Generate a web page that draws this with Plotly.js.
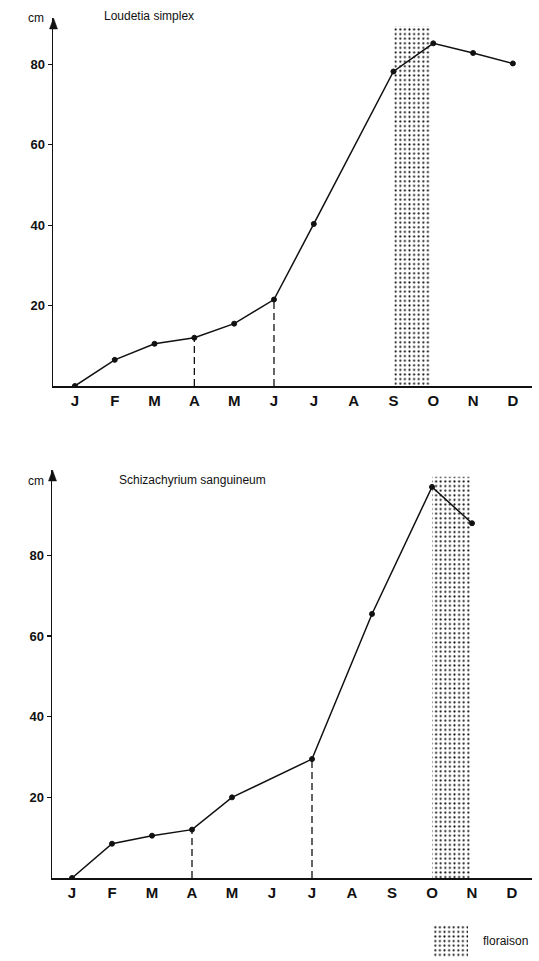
<!DOCTYPE html>
<html>
<head>
<meta charset="utf-8">
<script src="https://cdn.plot.ly/plotly-3.0.1.min.js"></script>
<style>html,body{margin:0;padding:0;background:#fff;}#chart{width:539px;height:961px;}</style>
</head>
<body>
<div id="chart"></div>
<script>
// ---- data ----
const monthLabels = ['J','F','M','A','M','J','J','A','S','O','N','D'];
const monthPositions = [1,2,3,4,5,6,7,8,9,10,11,12];
const yTicks = [20, 40, 60, 80];

const loudetiaX = [1, 2, 3, 4, 5, 6, 7, 9, 10, 11, 12];
const loudetiaY = [0, 6.5, 10.5, 12, 15.5, 21.5, 40.3, 78.2, 85.2, 82.8, 80.2];
const loudetiaDrops = [4, 6];
const loudetiaFlowerStart = 9.02;
const loudetiaFlowerEnd = 9.93;
const loudetiaFlowerTop = 89.5;

const schizX = [1, 2, 3, 4, 5, 7, 8.5, 10, 11];
const schizY = [0, 8.5, 10.5, 12, 20, 29.5, 65.5, 97, 88];
const schizDrops = [4, 7];
const schizFlowerStart = 10.0;
const schizFlowerEnd = 10.95;
const schizFlowerTop = 99.5;

const titles = ['Loudetia simplex', 'Schizachyrium sanguineum'];
const unitLabel = 'cm';
const legendLabel = 'floraison';

// ---- helpers ----
const W = 539, H = 961;
const px = v => v / W;
const py = v => 1 - v / H;

function dropTrace(xs, ys, drops, xa, ya) {
  const x = [], y = [];
  drops.forEach(d => {
    const v = ys[xs.indexOf(d)];
    x.push(d, d, null); y.push(0, v, null);
  });
  return {x, y, xaxis: xa, yaxis: ya, mode: 'lines', type: 'scatter',
    line: {color: '#111', width: 1.3, dash: '7px,4px'}, hoverinfo: 'skip', showlegend: false};
}
const pattern = {shape: '.', fgcolor: '#111', bgcolor: 'white', size: 4.6, solidity: 0.17, fillmode: 'replace'};
function flowerTrace(s, e, top, xa, ya) {
  return {type: 'bar', x: [(s + e) / 2], y: [top], width: [e - s], base: 0,
    xaxis: xa, yaxis: ya, marker: {color: 'white', pattern: pattern, line: {width: 0}},
    showlegend: false, hoverinfo: 'skip'};
}
function seriesTrace(xs, ys, xa, ya) {
  return {type: 'scatter', mode: 'lines+markers', x: xs, y: ys, xaxis: xa, yaxis: ya,
    line: {color: '#111', width: 1.5},
    marker: {color: '#111', size: 5, symbol: 'circle', line: {color: '#111', width: 1}},
    showlegend: false, hoverinfo: 'skip'};
}

const data = [
  flowerTrace(loudetiaFlowerStart, loudetiaFlowerEnd, loudetiaFlowerTop, 'x', 'y'),
  dropTrace(loudetiaX, loudetiaY, loudetiaDrops, 'x', 'y'),
  seriesTrace(loudetiaX, loudetiaY, 'x', 'y'),
  flowerTrace(schizFlowerStart, schizFlowerEnd, schizFlowerTop, 'x2', 'y2'),
  dropTrace(schizX, schizY, schizDrops, 'x2', 'y2'),
  seriesTrace(schizX, schizY, 'x2', 'y2'),
  {type: 'bar', x: [0], y: [1], width: [1], base: 0, xaxis: 'x3', yaxis: 'y3',
    marker: {color: 'white', pattern: pattern, line: {width: 0}}, showlegend: false, hoverinfo: 'skip'}
];

const monthFont = {family: 'Liberation Sans, Arial, sans-serif', size: 15, color: '#111', weight: 'bold'};
const valFont = {family: 'Liberation Sans, Arial, sans-serif', size: 13, color: '#111', weight: 'bold'};
const textFont = {family: 'Liberation Sans, Arial, sans-serif', size: 12, color: '#111'};

function xAxis(domain, range, anchor) {
  return {domain, range, anchor, tickvals: monthPositions, ticktext: monthLabels,
    showline: true, linecolor: '#111', linewidth: 1.6, ticks: '', showgrid: false,
    zeroline: false, tickfont: monthFont, fixedrange: true};
}
function yAxis(domain, range, anchor) {
  return {domain, range, anchor, tickvals: yTicks, showline: true, linecolor: '#111',
    linewidth: 1.5, ticks: 'outside', ticklen: 4, tickwidth: 1.2, tickcolor: '#111',
    showgrid: false, zeroline: false, tickfont: valFont, fixedrange: true};
}

function arrow(x, y) {
  return {type: 'path', xref: 'paper', yref: 'paper',
    path: `M ${px(x)} ${py(y)} L ${px(x - 4)} ${py(y + 11)} L ${px(x + 4)} ${py(y + 11)} Z`,
    fillcolor: '#111', line: {color: '#111', width: 0.5}};
}

const layout = {
  width: W, height: H, margin: {l: 0, r: 0, t: 0, b: 0},
  paper_bgcolor: 'white', plot_bgcolor: 'rgba(0,0,0,0)', showlegend: false,
  barmode: 'overlay',
  xaxis: xAxis([px(53), px(532)], [0.45, 12.48], 'y'),
  yaxis: yAxis([py(386), py(18)], [0, 91.5], 'x'),
  xaxis2: xAxis([px(52), px(532)], [0.5, 12.5], 'y2'),
  yaxis2: yAxis([py(878), py(470)], [0, 101.2], 'x2'),
  xaxis3: {domain: [px(433), px(468)], range: [-0.5, 0.5], visible: false, anchor: 'y3', fixedrange: true},
  yaxis3: {domain: [py(958), py(925)], range: [0, 1], visible: false, anchor: 'x3', fixedrange: true},
  shapes: [arrow(53.5, 18), arrow(52.5, 470)],
  annotations: [
    {xref: 'paper', yref: 'paper', x: px(102), y: py(16), xanchor: 'left', yanchor: 'middle',
      text: titles[0], showarrow: false, font: textFont},
    {xref: 'paper', yref: 'paper', x: px(26), y: py(18), xanchor: 'left', yanchor: 'middle',
      text: unitLabel, showarrow: false, font: textFont},
    {xref: 'paper', yref: 'paper', x: px(117), y: py(480), xanchor: 'left', yanchor: 'middle',
      text: titles[1], showarrow: false, font: textFont},
    {xref: 'paper', yref: 'paper', x: px(26), y: py(481), xanchor: 'left', yanchor: 'middle',
      text: unitLabel, showarrow: false, font: textFont},
    {xref: 'paper', yref: 'paper', x: px(481), y: py(941), xanchor: 'left', yanchor: 'middle',
      text: legendLabel, showarrow: false, font: textFont}
  ]
};

Plotly.newPlot('chart', data, layout, {staticPlot: true, displayModeBar: false});
</script>
</body>
</html>
